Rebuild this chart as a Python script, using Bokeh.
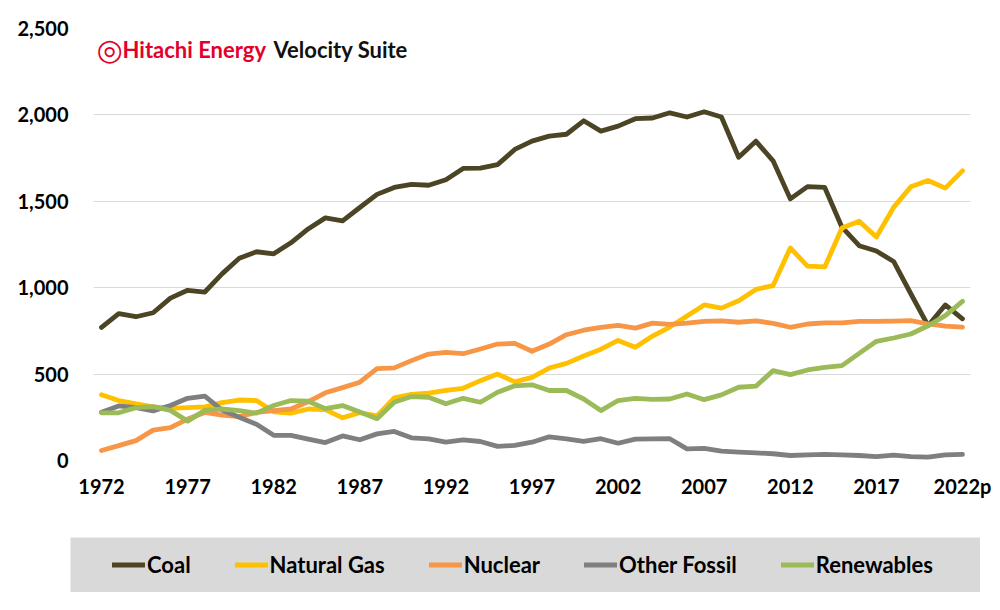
from bokeh.plotting import figure
from bokeh.models import (Range1d, FixedTicker, NumeralTickFormatter, Legend,
                          LegendItem, Label, ColumnDataSource)
from bokeh.layouts import column
from bokeh.embed import file_html
from bokeh.resources import INLINE

years = list(range(1972, 2023))

coal = [770, 850, 832, 855, 940, 985, 975, 1080, 1170, 1208, 1196, 1260, 1340,
        1404, 1387, 1464, 1540, 1580, 1598, 1593, 1625, 1690, 1692, 1712, 1800,
        1848, 1877, 1888, 1966, 1906, 1935, 1978, 1982, 2012, 1988, 2018, 1988,
        1755, 1848, 1734, 1514, 1585, 1580, 1350, 1243, 1212, 1152, 965, 780,
        900, 820]
gas = [380, 347, 328, 310, 302, 306, 310, 335, 350, 347, 282, 274, 298, 294,
       247, 277, 258, 362, 383, 390, 406, 418, 462, 500, 455, 481, 535, 562,
       605, 644, 695, 655, 720, 772, 836, 900, 882, 924, 990, 1012, 1230, 1125,
       1120, 1345, 1385, 1293, 1465, 1584, 1620, 1576, 1676]
nuclear = [58, 86, 115, 176, 190, 240, 278, 262, 254, 278, 288, 298, 340, 392,
           422, 453, 532, 536, 578, 616, 626, 618, 645, 674, 678, 632, 674, 728,
           754, 770, 782, 766, 795, 788, 795, 805, 808, 800, 808, 794, 771, 790,
           797, 797, 805, 805, 807, 809, 790, 778, 772]
other_fossil = [279, 316, 306, 287, 318, 360, 372, 292, 250, 210, 146, 145, 124,
                104, 142, 120, 154, 168, 131, 125, 106, 119, 110, 82, 87, 106,
                137, 125, 110, 126, 100, 124, 125, 126, 67, 70, 54, 48, 44, 39,
                29, 33, 35, 33, 29, 23, 31, 23, 19, 33, 35]
renewables = [276, 276, 306, 312, 290, 228, 290, 298, 289, 274, 318, 347, 343,
              300, 318, 280, 242, 337, 370, 366, 328, 360, 337, 395, 432, 438,
              405, 405, 356, 289, 347, 360, 354, 356, 385, 352, 380, 424, 430,
              520, 497, 524, 539, 549, 620, 690, 709, 732, 780, 838, 921]

series_names = ["Coal", "Natural Gas", "Nuclear", "Other Fossil", "Renewables"]
series_values = [coal, gas, nuclear, other_fossil, renewables]
series_colors = ["#4B4526", "#FFC000", "#F79646", "#7F7F7F", "#9BBB59"]

x_ticks = [1972, 1977, 1982, 1987, 1992, 1997, 2002, 2007, 2012, 2017, 2022]
x_tick_labels = ["1972", "1977", "1982", "1987", "1992", "1997", "2002",
                 "2007", "2012", "2017", "2022p"]
y_ticks = [0, 500, 1000, 1500, 2000, 2500]

FONT = "Lato"

p = figure(width=992, height=529, output_backend="svg", toolbar_location=None,
           x_range=Range1d(1971.535, 2022.465), y_range=Range1d(0, 2500),
           min_border_left=93, min_border_right=22, min_border_top=28,
           min_border_bottom=69)
p.frame_align = False
p.outline_line_color = None
p.background_fill_color = "white"
p.border_fill_color = "white"

p.xgrid.grid_line_color = None
p.ygrid.grid_line_color = "#D9D9D9"
p.ygrid.grid_line_width = 1.2
p.ygrid.ticker = FixedTicker(ticks=y_ticks)

p.yaxis.ticker = FixedTicker(ticks=y_ticks)
p.yaxis.formatter = NumeralTickFormatter(format="0,0")
p.xaxis.ticker = FixedTicker(ticks=x_ticks)
p.xaxis.major_label_overrides = {t: l for t, l in zip(x_ticks, x_tick_labels)}

for ax in (p.xaxis, p.yaxis):
    ax.axis_line_color = None
    ax.major_tick_line_color = None
    ax.minor_tick_line_color = None
    ax.major_label_text_font = FONT
    ax.major_label_text_font_style = "bold"
    ax.major_label_text_font_size = "20px"
    ax.major_label_text_color = "#000000"
p.yaxis.major_label_standoff = 19
p.xaxis.major_label_standoff = 7

for name, vals, col in zip(series_names, series_values, series_colors):
    src = ColumnDataSource(dict(x=years, y=vals))
    p.line("x", "y", source=src, line_color=col, line_width=4.8,
           line_join="round", line_cap="round")

# Logo (screen units, relative to the plot frame)
p.add_layout(Label(x=16, y=411, x_units="screen", y_units="screen", text="◎",
                   text_font="DejaVu Sans", text_font_style="bold",
                   text_font_size="30px", text_color="#E4002B",
                   text_align="center", text_baseline="middle"))
p.add_layout(Label(x=29, y=411, x_units="screen", y_units="screen",
                   text="Hitachi Energy", text_font=FONT, text_font_style="bold",
                   text_font_size="22px", text_color="#E4002B",
                   text_align="left", text_baseline="middle"))
p.add_layout(Label(x=180, y=411, x_units="screen", y_units="screen",
                   text="Velocity Suite", text_font=FONT, text_font_style="bold",
                   text_font_size="22px", text_color="#111111",
                   text_align="left", text_baseline="middle"))

# Legend panel (the series are drawn outside its visible range; only the
# legend swatches show)
lf = figure(width=910, height=55, output_backend="svg", toolbar_location=None,
            x_range=Range1d(0, 1), y_range=Range1d(-1, 0),
            x_axis_type=None, y_axis_type=None, min_border=0,
            min_border_left=0, min_border_right=0, min_border_top=0,
            min_border_bottom=0,
            background_fill_color="#D9D9D9", border_fill_color="#D9D9D9")
lf.frame_align = False
lf.outline_line_color = None
lf.margin = (8, 0, 0, 70)
items = []
for name, vals, col in zip(series_names, series_values, series_colors):
    r = lf.line(x=years, y=vals, line_color=col, line_width=5, line_cap="round")
    items.append(LegendItem(label=name, renderers=[r]))
legend = Legend(items=items, orientation="horizontal", location=(42, 14),
                spacing=44, glyph_width=33, glyph_height=27, label_standoff=2,
                label_height=27, padding=0, margin=0, background_fill_alpha=0,
                border_line_alpha=0, label_text_font=FONT,
                label_text_font_style="bold", label_text_font_size="22px",
                label_text_color="#000000")
lf.add_layout(legend, "center")

layout = column(p, lf, spacing=0)
open("out.html", "w").write(file_html(layout, INLINE))
